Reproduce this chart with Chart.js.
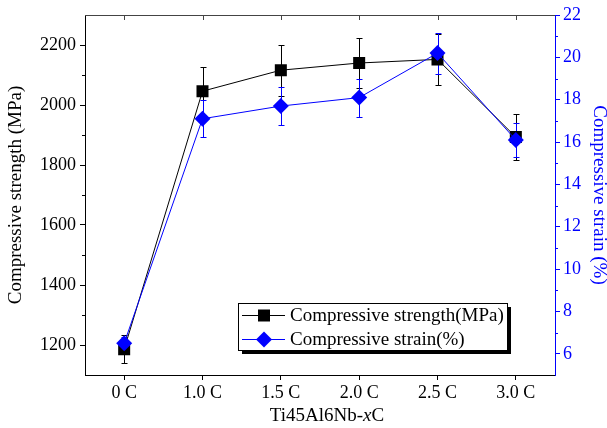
<!DOCTYPE html>
<html>
<head>
<meta charset="utf-8">
<script src="https://cdn.jsdelivr.net/npm/chart.js@4.4.1/dist/chart.umd.min.js"></script>
<style>
  html, body { margin: 0; padding: 0; background: #fff; }
  canvas { display: block; }
</style>
</head>
<body>
<canvas id="chart" width="607" height="428"></canvas>
<script>
// ── Data ──
const categories   = ['0 C', '1.0 C', '1.5 C', '2.0 C', '2.5 C', '3.0 C'];
const strength     = [1186, 2046, 2116, 2140, 2152, 1893];   // MPa
const strengthErr  = [47, 80, 85, 82, 84, 76];
const strain       = [6.5, 17.1, 17.7, 18.1, 20.2, 16.1];    // %
const strainErr    = [0.3, 0.87, 0.89, 0.9, 0.97, 0.8];
const strengthTicks = [1200, 1400, 1600, 1800, 2000, 2200];
const strainTicks   = [6, 8, 10, 12, 14, 16, 18, 20, 22];

const FONT  = 'Liberation Serif, Times New Roman, serif';
const BLUE  = '#0000FF';
const BLACK = '#000000';

// ── Error bars (drawn under the markers) ──
const errorBars = {
  id: 'errorBars',
  beforeDatasetsDraw(chart) {
    const ctx = chart.ctx;
    chart.data.datasets.forEach((ds, i) => {
      const meta = chart.getDatasetMeta(i);
      const ys = chart.scales[ds.yAxisID];
      ctx.save();
      ctx.strokeStyle = ds.borderColor;
      ctx.lineWidth = 1;
      meta.data.forEach((pt, j) => {
        const x = Math.round(pt.x) + 0.5;
        const yt = Math.round(ys.getPixelForValue(ds.data[j] + ds.errors[j])) + 0.5;
        const yb = Math.round(ys.getPixelForValue(ds.data[j] - ds.errors[j])) + 0.5;
        ctx.beginPath();
        ctx.moveTo(x, yt); ctx.lineTo(x, yb);
        ctx.moveTo(x - 3, yt); ctx.lineTo(x + 3, yt);
        ctx.moveTo(x - 3, yb); ctx.lineTo(x + 3, yb);
        ctx.stroke();
      });
      ctx.restore();
    });
  }
};

// ── Top frame line, top ticks, minor ticks ──
const frame = {
  id: 'frame',
  beforeDatasetsDraw(chart) {
    const { ctx, chartArea: a, scales } = chart;
    ctx.save();
    ctx.lineWidth = 1;
    ctx.strokeStyle = '#444';
    ctx.beginPath();
    ctx.moveTo(a.left, a.top + 0.5); ctx.lineTo(a.right, a.top + 0.5);
    categories.forEach((c, i) => {
      const x = Math.round(scales.x.getPixelForValue(i)) + 0.5;
      ctx.moveTo(x, a.top); ctx.lineTo(x, a.top + 5);
    });
    ctx.stroke();

    ctx.strokeStyle = BLACK;
    ctx.beginPath();
    for (let k = 0; k < strengthTicks.length - 1; k++) {
      const y = Math.round(scales.yL.getPixelForValue((strengthTicks[k] + strengthTicks[k + 1]) / 2)) + 0.5;
      ctx.moveTo(a.left - 3, y); ctx.lineTo(a.left, y);
    }
    ctx.stroke();

    ctx.strokeStyle = BLUE;
    ctx.beginPath();
    for (let k = 0; k < strainTicks.length - 1; k++) {
      const y = Math.round(scales.yR.getPixelForValue((strainTicks[k] + strainTicks[k + 1]) / 2)) + 0.5;
      ctx.moveTo(a.right, y); ctx.lineTo(a.right + 3, y);
    }
    ctx.stroke();
    ctx.restore();
  }
};

// ── Boxed legend with drop shadow + x-axis title with italic x ──
const legendBox = {
  id: 'legendBox',
  afterDraw(chart) {
    const { ctx, chartArea: a } = chart;
    const bx = a.left + 153, by = a.top + 288, bw = 269, bh = 47;
    ctx.save();
    ctx.fillStyle = BLACK;
    ctx.fillRect(bx + 4, by + 4, bw, bh);
    ctx.fillStyle = '#fff';
    ctx.fillRect(bx, by, bw, bh);
    ctx.strokeStyle = BLACK;
    ctx.lineWidth = 1;
    ctx.strokeRect(bx + 0.5, by + 0.5, bw, bh);

    ctx.font = '19px ' + FONT;
    ctx.textBaseline = 'middle';
    chart.data.datasets.forEach((ds, i) => {
      const y = by + 12.5 + i * 24;
      const mx = bx + 26;
      ctx.strokeStyle = ds.borderColor;
      ctx.beginPath();
      ctx.moveTo(bx + 4, y); ctx.lineTo(bx + 47, y);
      ctx.stroke();
      ctx.fillStyle = ds.backgroundColor;
      ctx.beginPath();
      if (ds.pointStyle === 'rect') {
        ctx.rect(mx - 6, y - 6, 12, 12);
      } else {
        ctx.moveTo(mx, y - 8); ctx.lineTo(mx + 8, y); ctx.lineTo(mx, y + 8); ctx.lineTo(mx - 8, y);
        ctx.closePath();
      }
      ctx.fill();
      ctx.fillStyle = BLACK;
      ctx.fillText(ds.label, bx + 52, y + 1);
    });

    // x title: Ti45Al6Nb-xC (x in italic)
    const parts = [['Ti45Al6Nb-', ''], ['x', 'italic '], ['C', '']];
    let total = 0;
    parts.forEach(p => { ctx.font = p[1] + '19px ' + FONT; total += ctx.measureText(p[0]).width; });
    let x = (a.left + a.right) / 2 + 7 - total / 2;
    ctx.fillStyle = BLACK;
    ctx.textBaseline = 'alphabetic';
    parts.forEach(p => {
      ctx.font = p[1] + '19px ' + FONT;
      ctx.fillText(p[0], x, 421);
      x += ctx.measureText(p[0]).width;
    });
    ctx.restore();
  }
};

new Chart(document.getElementById('chart'), {
  type: 'line',
  data: {
    labels: categories,
    datasets: [
      {
        label: 'Compressive strength(MPa)',
        data: strength,
        errors: strengthErr,
        yAxisID: 'yL',
        borderColor: BLACK,
        backgroundColor: BLACK,
        borderWidth: 1,
        pointStyle: 'rect',
        pointRadius: 8.5,
        pointBorderWidth: 0,
        tension: 0,
        order: 2,
      },
      {
        label: 'Compressive strain(%)',
        data: strain,
        errors: strainErr,
        yAxisID: 'yR',
        borderColor: BLUE,
        backgroundColor: BLUE,
        borderWidth: 1,
        pointStyle: 'rectRot',
        pointRadius: 8,
        pointBorderWidth: 0,
        tension: 0,
        order: 1,
      },
    ],
  },
  options: {
    responsive: false,
    animation: false,
    layout: { padding: { top: 15, left: 0, right: 0, bottom: 0 } },
    plugins: {
      legend: { display: false },
      tooltip: { enabled: false },
    },
    scales: {
      x: {
        type: 'category',
        offset: true,
        grid: { offset: false, drawOnChartArea: false, tickLength: 5, color: BLACK },
        border: { color: BLACK, width: 1 },
        ticks: { color: BLACK, font: { family: FONT, size: 18 }, padding: 2, maxRotation: 0 },
        afterFit: (s) => { s.height = 53; },
      },
      yL: {
        type: 'linear',
        position: 'left',
        min: 1100,
        max: 2300,
        afterBuildTicks: (s) => { s.ticks = strengthTicks.map(v => ({ value: v })); },
        grid: { drawOnChartArea: false, tickLength: 5, color: BLACK },
        border: { color: BLACK, width: 1 },
        ticks: { color: BLACK, font: { family: FONT, size: 18 }, padding: 4, callback: (v) => String(v) },
        title: {
          display: true, text: 'Compressive strength (MPa)', color: BLACK,
          font: { family: FONT, size: 19, lineHeight: 1 }, padding: { top: 7, bottom: 0 },
        },
        afterFit: (s) => { s.width = 85; },
      },
      yR: {
        type: 'linear',
        position: 'right',
        min: 5,
        max: 22,
        afterBuildTicks: (s) => { s.ticks = strainTicks.map(v => ({ value: v })); },
        grid: { drawOnChartArea: false, tickLength: 5, color: BLUE },
        border: { color: BLUE, width: 1 },
        ticks: { color: BLUE, font: { family: FONT, size: 18 }, padding: 3, callback: (v) => String(v) },
        title: {
          display: true, text: 'Compressive strain (%)', color: BLUE,
          font: { family: FONT, size: 19, lineHeight: 1 }, padding: { top: -1, bottom: 0 },
        },
        afterFit: (s) => { s.width = 52; },
      },
    },
  },
  plugins: [errorBars, frame, legendBox],
});
</script>
</body>
</html>
